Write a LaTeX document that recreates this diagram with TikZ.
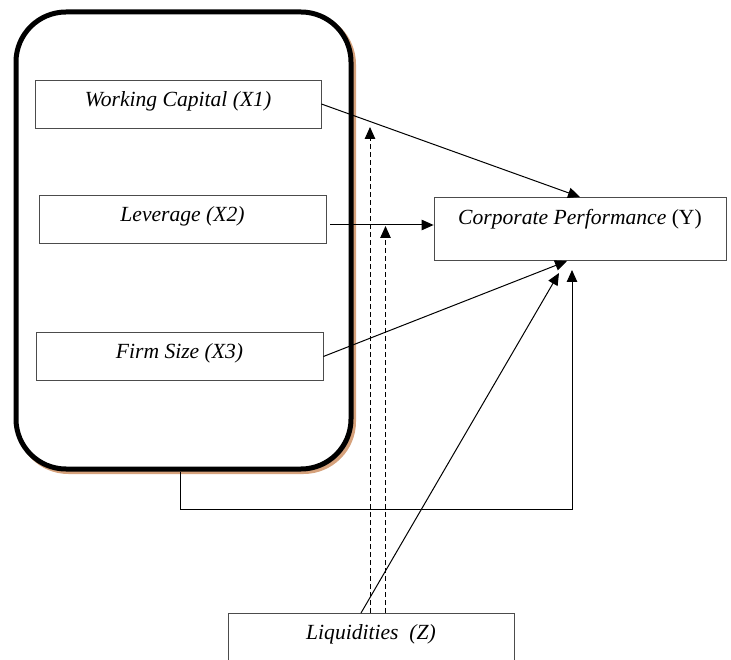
\documentclass[tikz,border=0pt]{standalone}
\usepackage{fontspec}
\setmainfont{Liberation Serif}
\usetikzlibrary{arrows.meta,calc,shadows}
\definecolor{shadetan}{RGB}{214,162,124}

\begin{document}
\begin{tikzpicture}
[x=1pt,y=-1pt,>={Triangle[length=12pt,width=10.5pt]},
varbox/.style={draw=black!70,line width=0.8pt,minimum width=286pt,inner sep=0pt,
  text height=26.5pt,text depth=21.5pt,font=\fontsize{21.6}{26}\selectfont\itshape},
groupbox/.style={draw,fill=white,line width=5pt,rounded corners=50pt,
  minimum width=335pt,minimum height=457pt,
  drop shadow={shadow xshift=2.5pt,shadow yshift=-2.5pt,opacity=1,
  draw=shadetan,fill=shadetan,line width=5pt}},
link/.style={->,line width=1pt},
modlink/.style={->,line width=1pt,dash pattern=on 5pt off 3pt},]

\useasboundingbox (0,0) rectangle (731,660);

%Group of independent variables
\node (grp) at (183.5,240.5)[groupbox] {};

%Independent variables
\node (X1) at (178,104)[varbox] {Working Capital (X1)};
\node (X2) at (182.5,219)[varbox,minimum width=287pt] {Leverage (X2)};
\node (X3) at (179.5,356.5)[varbox,minimum width=287pt] {Firm Size (X3)};

%Dependent and moderating variables
\node (CP) at (580,197)[varbox,anchor=north,minimum width=292pt,text height=27pt,text depth=36pt]
  {Corporate Performance \upshape(Y)};
\node (LQ) at (371,613)[varbox,anchor=north,text height=26pt,text depth=40pt]
  {Liquidities~ (Z)};

%Ends of the connectors
\coordinate (x2 out) at (330,225);
\coordinate (lq out) at (361,613);
\coordinate (cp s1) at (567,261);
\coordinate (cp s2) at (559,273);
\coordinate (cp s3) at (572,270);
\coordinate (d1) at (370,127);
\coordinate (d2) at (385.5,226);

%Direct effects
\draw[link] (X1.east) -- (CP.north);
\draw[link] (x2 out) -- (CP.west |- x2 out);
\draw[link] (X3.east) -- (cp s1);
\draw[link] (lq out) -- (cp s2);
\draw[link] ($(grp.south)+(-3,0)$) -- ++(0,38) -| (cp s3);

%Moderating effects
\draw[modlink] (LQ.north -| d1) -- (d1);
\draw[modlink] (LQ.north -| d2) -- (d2);

\end{tikzpicture}
\end{document}
